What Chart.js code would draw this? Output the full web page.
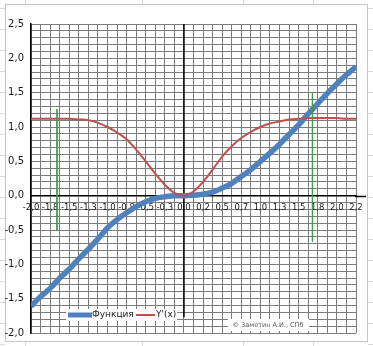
<!DOCTYPE html>
<html>
<head>
<meta charset="utf-8">
<script src="https://cdn.jsdelivr.net/npm/chart.js@4.4.0/dist/chart.umd.min.js"></script>
<style>
  html, body { margin: 0; padding: 0; background: #fff; }
</style>
</head>
<body>
<canvas id="mycanvas" width="373" height="346"></canvas>
<script>
// x grid: -2 .. 2.25 with step 0.125
var xValues = [-2, -1.875, -1.75, -1.625, -1.5, -1.375, -1.25, -1.125, -1, -0.875, -0.75, -0.625, -0.5, -0.375, -0.25, -0.125,
  0, 0.125, 0.25, 0.375, 0.5, 0.625, 0.75, 0.875, 1, 1.125, 1.25, 1.375, 1.5, 1.625, 1.75, 1.875, 2, 2.125, 2.25];

var funcValues = [-1.61, -1.47, -1.35, -1.20, -1.07, -0.92, -0.78, -0.63, -0.47, -0.35, -0.25, -0.16, -0.09, -0.04, -0.015, 0,
  0, 0.005, 0.02, 0.05, 0.11, 0.18, 0.28, 0.38, 0.50, 0.62, 0.75, 0.89, 1.03, 1.19, 1.34, 1.49, 1.63, 1.76, 1.88];

var derivValues = [1.12, 1.12, 1.12, 1.12, 1.12, 1.11, 1.10, 1.06, 1.00, 0.92, 0.82, 0.67, 0.50, 0.32, 0.16, 0.04,
  0, 0.06, 0.20, 0.38, 0.57, 0.72, 0.84, 0.93, 1.00, 1.05, 1.08, 1.11, 1.12, 1.13, 1.13, 1.13, 1.13, 1.12, 1.12];

var xTickLabels = ['-2,0', '-1,8', '-1,5', '-1,3', '-1,0', '-0,8', '-0,5', '-0,3', '0,0',
  '0,2', '0,5', '0,7', '1,0', '1,3', '1,5', '1,8', '2,0', '2,2'];
var yTickLabels = ['-2,0', '-1,5', '-1,0', '-0,5', '0,0', '0,5', '1,0', '1,5', '2,0', '2,5'];

// vertical marker lines: x, top, bottom
var markerLeft = [-1.66, 1.26, -0.51];
var markerRight = [1.68, 1.49, -0.67];
// vertical axis line through x = 0
var zeroAxis = [0, 2.5, -1.77];

var funcLabel = 'Функция';
var derivLabel = "Y'(x)";
var credit = '© Заметин А.И., СПб';

var blue = '#4F81BD';
var red = '#C0504D';
var green = '#3E9A4A';
var gridGray = '#7c7c7c';

function pts(ys) {
  var out = [];
  for (var i in xValues) out.push({x: xValues[i], y: ys[i]});
  return out;
}
function vline(m) {
  return [{x: m[0], y: m[1]}, {x: m[0], y: m[2]}];
}

Chart.defaults.font.family = 'DejaVu Sans';
Chart.defaults.color = '#1a1a1a';

var sheet = {
  id: 'sheet',
  beforeDraw: function(chart) {
    var c = chart.ctx;
    c.save();
    c.fillStyle = '#fff';
    c.fillRect(0, 0, chart.width, chart.height);
    // worksheet cells around the chart object
    c.strokeStyle = '#d9d9d9';
    c.lineWidth = 1;
    c.beginPath();
    [25, 142, 243, 313].forEach(function(x) {
      c.moveTo(x + 0.5, 0); c.lineTo(x + 0.5, 4);
      c.moveTo(x + 0.5, 342); c.lineTo(x + 0.5, 346);
    });
    for (var y = 8; y < 346; y += 21) {
      c.moveTo(0, y + 0.5); c.lineTo(5, y + 0.5);
      c.moveTo(368, y + 0.5); c.lineTo(373, y + 0.5);
    }
    c.stroke();
    c.strokeStyle = '#c6c6c6';
    c.strokeRect(5.5, 4.5, 362, 337);
    c.restore();
  },
  afterDraw: function(chart) {
    var c = chart.ctx;
    var area = chart.chartArea;
    var ys = chart.scales.y;
    c.save();
    // x axis runs a bit past the plot
    var y0 = Math.round(ys.getPixelForValue(0)) + 0.5;
    c.strokeStyle = '#000';
    c.lineWidth = 1.5;
    c.beginPath();
    c.moveTo(area.right - 1, y0);
    c.lineTo(area.right + 10, y0);
    c.stroke();

    // legend
    c.fillStyle = '#fff';
    c.fillRect(66, 309, 111, 12);
    c.lineCap = 'butt';
    c.strokeStyle = blue;
    c.lineWidth = 5;
    c.beginPath(); c.moveTo(68, 315); c.lineTo(92, 315); c.stroke();
    c.strokeStyle = red;
    c.lineWidth = 2;
    c.beginPath(); c.moveTo(136, 315); c.lineTo(155, 315); c.stroke();
    c.fillStyle = '#222';
    c.font = '9px "DejaVu Sans"';
    c.textBaseline = 'middle';
    c.textAlign = 'left';
    c.fillText(funcLabel, 92, 315);
    c.fillText(derivLabel, 156, 315);

    // credit box
    c.fillStyle = '#fff';
    c.fillRect(228, 319, 81, 12);
    c.fillStyle = '#555';
    c.font = '6.5px "DejaVu Sans"';
    c.textAlign = 'center';
    c.fillText(credit, 268, 325);
    c.restore();
  }
};

var ctx = document.getElementById('mycanvas');

var chart = new Chart(ctx, {
  type: 'line',
  data: {
    datasets: [
      { data: vline(markerLeft), borderColor: green, borderWidth: 1, pointRadius: 0 },
      { data: vline(markerRight), borderColor: green, borderWidth: 1, pointRadius: 0 },
      { label: derivLabel, data: pts(derivValues), borderColor: red, borderWidth: 2,
        pointRadius: 0, cubicInterpolationMode: 'monotone' },
      { label: funcLabel, data: pts(funcValues), borderColor: blue, borderWidth: 5.5,
        pointRadius: 0, cubicInterpolationMode: 'monotone' },
      { data: vline(zeroAxis), borderColor: '#000', borderWidth: 1.5, pointRadius: 0 }
    ]
  },
  options: {
    responsive: false,
    animation: false,
    devicePixelRatio: 1,
    layout: { padding: { left: 0, top: 24, right: 17, bottom: 13 } },
    plugins: { legend: { display: false }, tooltip: { enabled: false } },
    scales: {
      x: {
        type: 'linear',
        position: { y: 0 },
        min: -2,
        max: 2.25,
        grid: { color: gridGray, drawTicks: false },
        border: { color: '#000', width: 1.5 },
        ticks: {
          stepSize: 0.125,
          autoSkip: false,
          maxRotation: 0,
          padding: 7,
          font: { size: 8.5 },
          callback: function(v) {
            var k = (v + 2) / 0.25;
            if (Math.abs(k - Math.round(k)) < 1e-6) return xTickLabels[Math.round(k)];
            return '';
          }
        }
      },
      y: {
        min: -2,
        max: 2.5,
        afterFit: function(s) { s.width = 31; },
        grid: { color: gridGray, drawTicks: false },
        border: { color: '#000', width: 1.5 },
        ticks: {
          stepSize: 0.1,
          autoSkip: false,
          padding: 7,
          font: { size: 10 },
          callback: function(v) {
            var k = (v + 2) / 0.5;
            if (Math.abs(k - Math.round(k)) < 1e-6) return yTickLabels[Math.round(k)];
            return '';
          }
        }
      }
    }
  },
  plugins: [sheet]
});
</script>
</body>
</html>
